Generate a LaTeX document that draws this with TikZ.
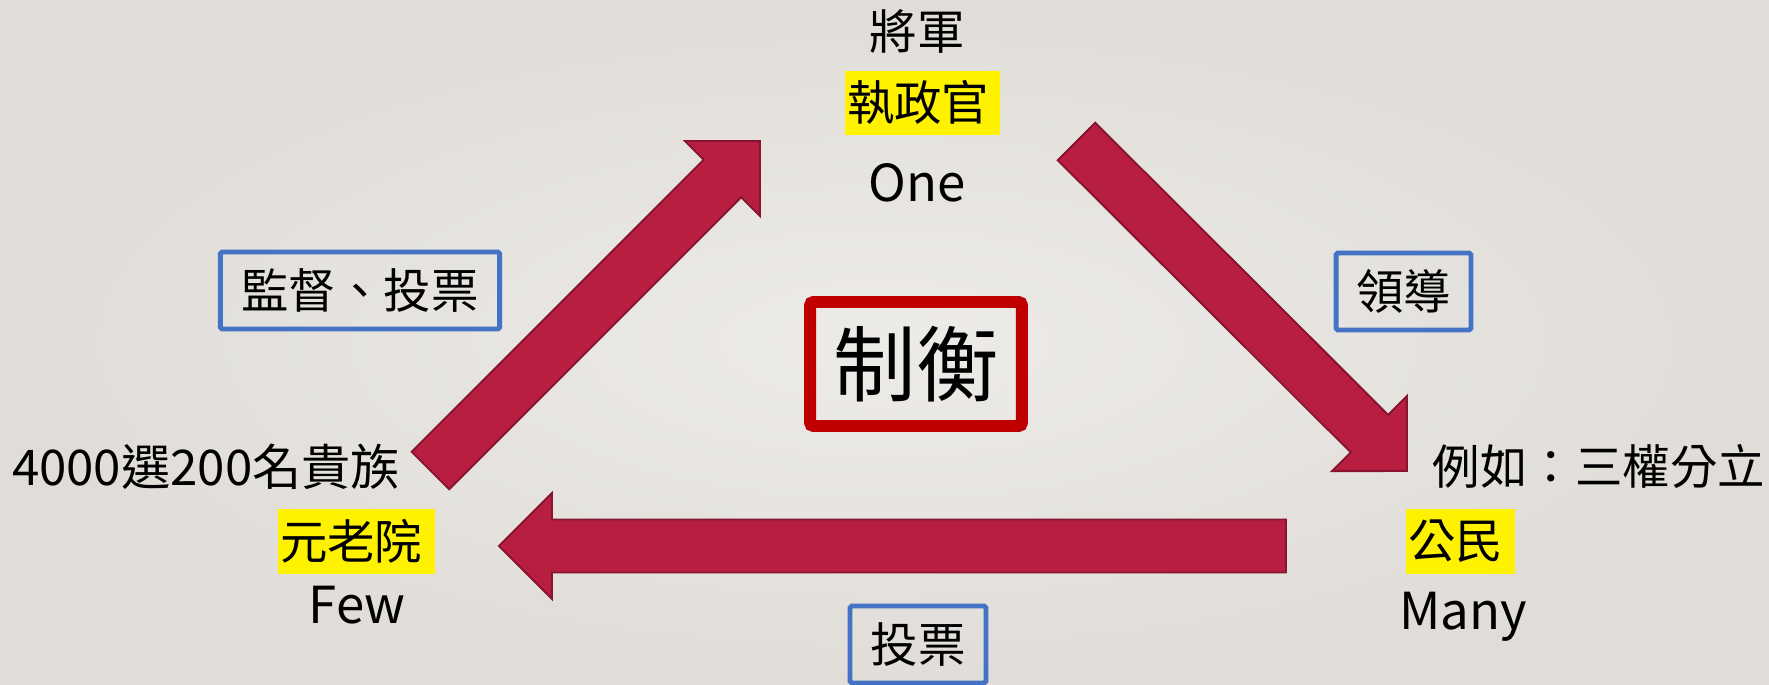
\documentclass[tikz,border=0pt]{standalone}
\usepackage{fontspec}
\setmainfont{Noto Sans CJK TC}
\usepackage{tikz}
\usetikzlibrary{calc}

\definecolor{arrowred}{RGB}{183,30,64}
\definecolor{arrowedge}{RGB}{135,20,48}
\definecolor{boxblue}{RGB}{68,114,196}
\definecolor{boxred}{RGB}{192,0,0}
\definecolor{bgin}{RGB}{237,235,232}
\definecolor{bgout}{RGB}{224,221,216}

\tikzset{
	lbl/.style={font=\fontsize{27}{32}\selectfont, inner sep=0pt},
	word/.style={font=\fontsize{29}{34}\selectfont, inner sep=0pt, anchor=base},
	hl/.style={lbl, fill=yellow, inner xsep=1pt, align=left, minimum height=36.5pt, anchor=west},
	bluebox/.style={lbl, draw=boxblue, line width=2.8pt, rounded corners=1pt, minimum height=43.8pt},
	redbox/.style={draw=boxred, line width=6.8pt, rounded corners=2pt, minimum width=120.6pt, minimum height=70.6pt, inner sep=0pt, font=\fontsize{47}{56}\selectfont},
	arrowbody/.style={fill=arrowred, draw=arrowedge, line width=1.1pt, line join=miter}
}

\newcommand{\blockarrow}[2]{%
	\coordinate (#2-base) at ($(#2)!1.06cm!(#1)$);
	\draw[arrowbody] ($(#1)!0.53cm!90:(#2)$) -- ($(#2-base)!0.53cm!90:(#2)$)
		-- ($(#2-base)!1.06cm!90:(#2)$) -- (#2) -- ($(#2-base)!1.06cm!-90:(#2)$)
		-- ($(#2-base)!0.53cm!-90:(#2)$) -- ($(#1)!0.53cm!-90:(#2)$) -- cycle;}

\begin{document}
\begin{tikzpicture}[x=0.02cm,y=-0.02cm]
		\useasboundingbox (0,0) rectangle (1769,685);
		\shade[inner color=bgin, outer color=bgout] (0,0) rectangle (1769,685);
		\clip (0,0) rectangle (1769,685);

		\coordinate (upTail) at (430.5,470.5);
		\coordinate (upTip) at (760,141);
		\coordinate (downTail) at (1076.5,141.5);
		\coordinate (downTip) at (1407,471);
		\coordinate (leftTail) at (1286,546);
		\coordinate (leftTip) at (499,546);
		\blockarrow{upTail}{upTip}
		\blockarrow{downTail}{downTip}
		\blockarrow{leftTail}{leftTip}

		\node[lbl] (general) at (917,32) {將軍};
		\node[hl, text width=86pt] (consul) at (845,103) {執政官};
		\node[word] (one) at (917,202) {One};

		\node[redbox] (balance) at (916,364) {制衡};

		\node[bluebox, minimum width=159pt] (supervise) at (360,290.5) {監督、投票};
		\node[bluebox, minimum width=76.8pt] (lead) at (1403.5,291.5) {領導};
		\node[bluebox, minimum width=77.4pt] (vote) at (918,644.5) {投票};

		\node[lbl, font=\fontsize{28}{33}\selectfont] (nobles) at (206,467) {4000選200名貴族};
		\node[hl, text width=87pt] (senate) at (278,541.5) {元老院};
		\node[word] (few) at (357,624) {Few};

		\node[lbl] (example) at (1599,466.5) {例如：三權分立};
		\node[hl, text width=60pt] (citizens) at (1406,541.5) {公民};
		\node[word] (many) at (1463,630) {Many};
\end{tikzpicture}
\end{document}
